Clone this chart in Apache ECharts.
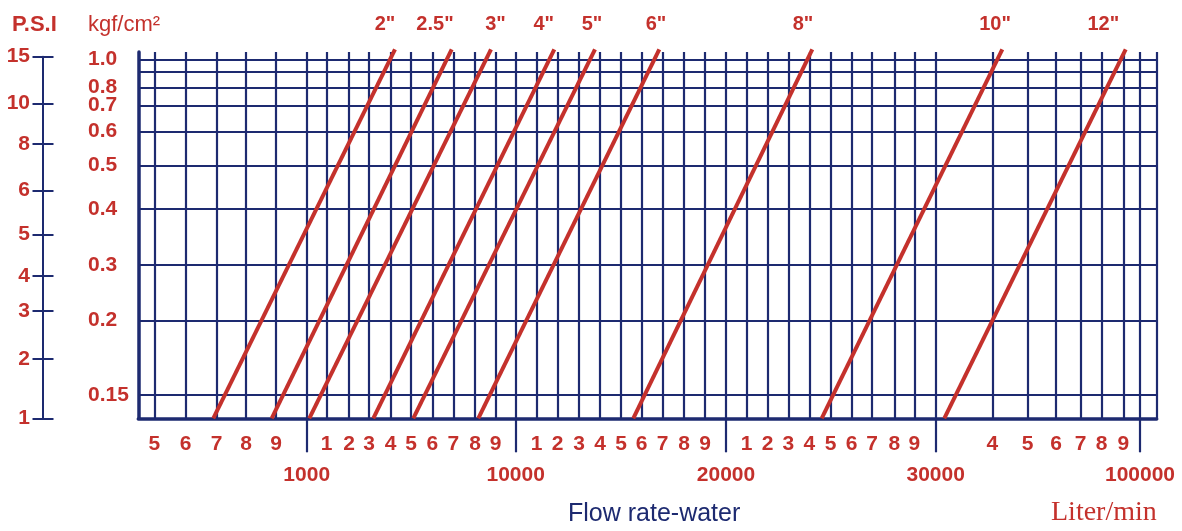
<!DOCTYPE html>
<html><head><meta charset="utf-8">
<script src="https://cdn.jsdelivr.net/npm/echarts@6/dist/echarts.min.js"></script>
<style>html,body{margin:0;padding:0;background:#fff}#c{width:1182px;height:531px}</style>
</head><body><div id="c"></div>
<script>
// ---- Nomogram scales (values expressed in the chart's own scale units) ----
const flowDigitLabels = ['5','6','7','8','9',
  '1','2','3','4','5','6','7','8','9',
  '1','2','3','4','5','6','7','8','9',
  '1','2','3','4','5','6','7','8','9',
  '4','5','6','7','8','9'];
const flowDigitAt = [16,47.4,78.4,107.7,137.7,
  188.4,210.7,230.7,252.4,272.7,294,315,336.7,357.4,
  398.4,419.4,440.7,461.7,482.7,503.4,524.4,545.7,566.7,
  608.4,629.2,650,671,692.4,713.4,733.7,756,776,
  854,889.4,917.7,942.4,963.4,985];
const flowDecadeLabels = ['1000','10000','20000','30000','100000'];
const flowDecadeAt = [168.4,377.4,587.7,797.4,1001.7];
const flowScaleEnd = 1018.4;

const kgfLabels = ['0.15','0.2','0.3','0.4','0.5','0.6','0.7','0.8','','1.0'];
const kgfAt = [23.3,97.6,153.3,209.3,252.6,286.6,313,331,346.6,359];
const kgfScaleEnd = 366.3;

const psiLabels = ['1','2','3','4','5','6','8','10','15'];
const psiAt = [0,59.3,107.3,142.3,184,227.6,274.3,315,361.6];

const pipeSizes = ['2"','2.5"','3"','4"','5"','6"','8"','10"','12"'];
const flowAtBottom = [75,133.4,171,235,275,340,495,683.4,806];
const flowAtTop = [256.7,313.4,352.7,416,456.7,521,674,864,987.4];
const pressureBottom = 0, pressureTop = 369;
const pipeLabelAt = [246.7,296.7,357.2,405.4,453.7,517.7,664.7,856.7,965];

// ---- styling ----
const NAVY = '#1d2a70';
const RED = '#c4312c';
const FONT = '"Liberation Sans", Arial, sans-serif';

function lookup(positions, labels) {
  return function (v) {
    let best = 0, d = Infinity;
    for (let i = 0; i < positions.length; i++) {
      const dd = Math.abs(positions[i] - v);
      if (dd < d) { d = dd; best = i; }
    }
    return labels[best];
  };
}

const allFlowGrid = flowDigitAt.concat(flowDecadeAt, [flowScaleEnd]).sort((a, b) => a - b);
const kgfLabelAt = kgfAt.filter((v, i) => kgfLabels[i] !== '');

const chart = echarts.init(document.getElementById('c'), null, { renderer: 'canvas' });

const series = pipeSizes.map((name, i) => ({
  name: name,
  type: 'line',
  xAxisIndex: 0,
  yAxisIndex: 0,
  clip: false,
  silent: true,
  symbol: 'none',
  lineStyle: { color: RED, width: 4 },
  data: [[flowAtBottom[i], pressureBottom], [flowAtTop[i], pressureTop]],
  z: 5
}));

const labelBase = { color: RED, fontFamily: FONT, fontWeight: 'bold', fontSize: 21 };

chart.setOption({
  animation: false,
  backgroundColor: '#ffffff',
  title: [
    { text: 'P.S.I', left: 12, top: 14, padding: 0,
      textStyle: { color: RED, fontFamily: FONT, fontWeight: 'bold', fontSize: 22, lineHeight: 22 } },
    { text: 'kgf/cm²', left: 88, top: 14, padding: 0,
      textStyle: { color: RED, fontFamily: FONT, fontWeight: 'normal', fontSize: 22, lineHeight: 22 } },
    { text: 'Flow rate-water', left: 568, top: 502, padding: 0,
      textStyle: { color: NAVY, fontFamily: FONT, fontWeight: 'normal', fontSize: 25, lineHeight: 25 } },
    { text: 'Liter/min', left: 1051, top: 499, padding: 0,
      textStyle: { color: RED, fontFamily: '"Liberation Serif", "Times New Roman", serif', fontWeight: 'normal', fontSize: 28, lineHeight: 28 } }
  ],
  grid: [
    { left: 138.3, top: 52, width: flowScaleEnd, height: kgfScaleEnd },
    { left: 43, top: 56.7, width: 1, height: 361.6 }
  ],
  xAxis: [
    { gridIndex: 0, type: 'value', min: 0, max: flowScaleEnd, position: 'bottom',
      axisLine: { show: true, onZero: false, lineStyle: { color: NAVY, width: 3.5 } },
      axisTick: { show: false, customValues: allFlowGrid },
      splitLine: { show: true, lineStyle: { color: NAVY, width: 2.2 } },
      axisLabel: Object.assign({ customValues: flowDigitAt, formatter: lookup(flowDigitAt, flowDigitLabels),
        margin: 25.5, verticalAlign: 'middle' }, labelBase) },
    { gridIndex: 0, type: 'value', min: 0, max: flowScaleEnd, position: 'bottom',
      axisLine: { show: false, onZero: false },
      axisTick: { show: true, customValues: flowDecadeAt, length: 34, lineStyle: { color: NAVY, width: 2.2 } },
      splitLine: { show: false },
      axisLabel: Object.assign({ customValues: flowDecadeAt, formatter: lookup(flowDecadeAt, flowDecadeLabels),
        margin: 57, verticalAlign: 'middle' }, labelBase) },
    { gridIndex: 0, type: 'value', min: 0, max: flowScaleEnd, position: 'top',
      axisLine: { show: false, onZero: false },
      axisTick: { show: false },
      splitLine: { show: false },
      axisLabel: Object.assign({ customValues: pipeLabelAt, formatter: lookup(pipeLabelAt, pipeSizes),
        margin: 27.5, verticalAlign: 'middle' }, labelBase, { fontSize: 20 }) },
    { gridIndex: 1, type: 'value', min: 0, max: 1, show: false }
  ],
  yAxis: [
    { gridIndex: 0, type: 'value', min: 0, max: kgfScaleEnd, position: 'left',
      axisLine: { show: true, onZero: false, lineStyle: { color: NAVY, width: 3.5 } },
      axisTick: { show: false, customValues: kgfAt },
      splitLine: { show: true, lineStyle: { color: NAVY, width: 2.2 } },
      axisLabel: Object.assign({ customValues: kgfLabelAt, formatter: lookup(kgfAt, kgfLabels),
        margin: 50.3, align: 'left' }, labelBase) },
    { gridIndex: 1, type: 'value', min: 0, max: 361.6, position: 'left',
      axisLine: { show: true, onZero: false, lineStyle: { color: NAVY, width: 2 } },
      axisTick: { show: true, inside: false, length: 10.5, customValues: psiAt, lineStyle: { color: NAVY, width: 2 } },
      splitLine: { show: false },
      axisLabel: Object.assign({ customValues: psiAt, formatter: lookup(psiAt, psiLabels), margin: 13 }, labelBase) },
    { gridIndex: 1, type: 'value', min: 0, max: 361.6, position: 'left',
      axisLine: { show: false, onZero: false },
      axisTick: { show: true, inside: true, length: 10.5, customValues: psiAt, lineStyle: { color: NAVY, width: 2 } },
      splitLine: { show: false },
      axisLabel: { show: false } }
  ],
  series: series
});
</script>
</body></html>
